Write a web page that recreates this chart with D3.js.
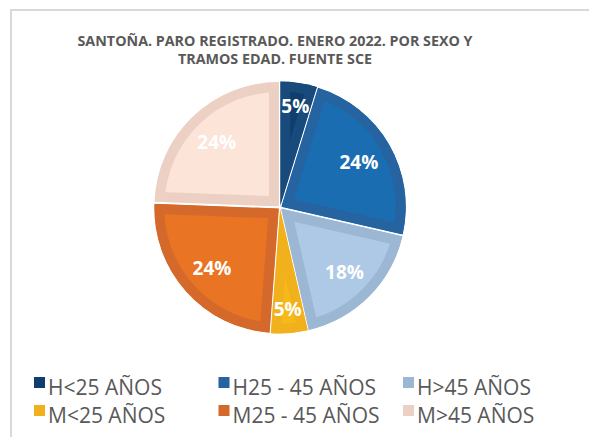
<!DOCTYPE html>
<html>
<head>
<meta charset="utf-8">
<script src="https://cdn.jsdelivr.net/npm/d3@7"></script>
<style>
  body { margin: 0; background: #fff; }
  svg text { font-family: "Open Sans", "Noto Sans", sans-serif; }
</style>
</head>
<body>
<div id="chart"></div>
<script>
// chart data
var categories = ['H<25 AÑOS', 'H25 - 45 AÑOS', 'H>45 AÑOS', 'M<25 AÑOS', 'M25 - 45 AÑOS', 'M>45 AÑOS'];
var paro = [8, 40, 30, 8, 41, 41];
var titleLines = ['SANTOÑA. PARO REGISTRADO. ENERO 2022. POR SEXO Y', 'TRAMOS EDAD. FUENTE SCE'];

// colours: inner fill and darker edge band for each slice
var fillColors = ['#0f3e6e', '#1b6db1', '#adc9e6', '#f7b917', '#e87424', '#fce4d8'];
var bandColors = ['#184a7b', '#2563a1', '#9cb7d4', '#f1b11c', '#d5692b', '#ecd0c4'];

var svgWidth = 589, svgHeight = 437;

var svg = d3.select('#chart')
    .append('svg')
    .attr('width', svgWidth)
    .attr('height', svgHeight);

// chart frame
svg.append('rect')
    .attr('x', 11)
    .attr('y', 10)
    .attr('width', 620)
    .attr('height', 460)
    .attr('fill', '#fff')
    .attr('stroke', '#d9d9d9')
    .attr('stroke-width', 2);

// title
svg.append('text')
    .attr('text-anchor', 'middle')
    .attr('fill', '#595959')
    .attr('font-weight', 'bold')
    .attr('font-size', 14.3)
    .selectAll('tspan')
    .data(titleLines)
    .join('tspan')
    .attr('x', 275)
    .attr('y', (d, i) => 46 + i * 18)
    .text(d => d);

// pie
var cx = 280, cy = 207.5, radius = 124.5;
var total = d3.sum(paro);
var pct = d3.format('.0%');

var pie = d3.pie().sort(null).value(d => d.value);
var arcs = pie(categories.map((c, i) => ({name: c, value: paro[i]})));

var arc = d3.arc().innerRadius(0).outerRadius(radius);

var pieGroup = svg.append('g')
    .attr('transform', `translate(${cx},${cy})`);

var slices = pieGroup.selectAll('g.slice')
    .data(arcs)
    .join('g')
    .attr('class', 'slice')
    .attr('transform', d => {
        // slight explosion of every slice
        var a = (d.startAngle + d.endAngle) / 2;
        return `translate(${Math.sin(a) * 1.5},${-Math.cos(a) * 1.5})`;
    });

slices.append('clipPath')
    .attr('id', (d, i) => 'clip' + i)
    .append('path')
    .attr('d', arc);

slices.append('path')
    .attr('d', arc)
    .attr('fill', (d, i) => fillColors[i])
    .attr('stroke', (d, i) => bandColors[i])
    .attr('stroke-width', 20)
    .attr('stroke-linejoin', 'miter')
    .attr('clip-path', (d, i) => `url(#clip${i})`);

// percentage labels
slices.append('text')
    .attr('text-anchor', 'middle')
    .attr('dy', '0.36em')
    .attr('fill', '#fff')
    .attr('font-weight', 'bold')
    .attr('font-size', 19)
    .attr('transform', d => {
        var a = (d.startAngle + d.endAngle) / 2;
        var r = (d.value / total) < 0.1 ? radius * 0.81 : radius * 0.72;
        return `translate(${Math.sin(a) * r},${-Math.cos(a) * r})`;
    })
    .text(d => pct(d.value / total));

// legend
var legendX = d3.scalePoint().domain([0, 1, 2]).range([34, 403]);
var legendY = d3.scalePoint().domain([0, 1]).range([395, 423]);

var legend = svg.append('g')
    .selectAll('g')
    .data(categories)
    .join('g')
    .attr('transform', (d, i) => `translate(${legendX(i % 3)},${legendY(Math.floor(i / 3))})`);

legend.append('rect')
    .attr('x', 0)
    .attr('y', -18)
    .attr('width', 11)
    .attr('height', 11)
    .attr('fill', (d, i) => i === 0 ? fillColors[i] : bandColors[i]);

legend.append('text')
    .attr('x', 14)
    .attr('fill', '#595959')
    .attr('font-size', 21)
    .text(d => d);
</script>
</body>
</html>
